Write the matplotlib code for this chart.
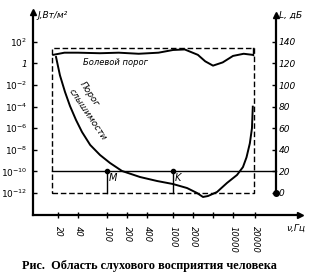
import numpy as np
import matplotlib
matplotlib.use("Agg")
import matplotlib.pyplot as plt
import matplotlib.transforms as mtransforms

# frequency ticks of the (hand-drawn, not quite logarithmic) axis, Hz
tick_freq = [20, 40, 100, 200, 400, 1000, 2000, 5000, 10000, 20000]
tick_text = ["20", "40", "100", "200", "400", "1000", "2000", "", "10000", "20000"]

# threshold of hearing, dB
hear_f = [18.7, 21.4, 25.5, 30.3, 37.3, 45.4, 58.8, 80.2, 111, 168, 314, 571,
          1000, 1625, 2402, 3162, 3977, 5743, 8123, 11350, 13680, 15300,
          17000, 18170, 18660]
hear_db = [126, 109, 93.6, 80.6, 67.7, 56.5, 44.5, 35.2, 27.8, 20.4, 14.8,
           11.1, 8.3, 4.6, 0, -3.7, -2.8, 0.9, 9.3, 16.7, 24, 33, 46, 60, 80]

# threshold of pain, dB
pain_f = [17, 25, 40, 80, 150, 300, 600, 1000, 1500, 2500, 3500, 5000, 7000,
          10000, 14000, 18500]
pain_db = [128, 130, 130, 129.5, 130, 129, 130, 132.5, 133, 128, 122, 118,
           121, 127, 129, 128]

# left axis: intensity, right axis: level
left_lab = [r"$10^{-12}$", r"$10^{-10}$", r"$10^{-8}$", r"$10^{-6}$",
            r"$10^{-4}$", r"$10^{-2}$", "1", r"$10^{2}$"]
level_ticks = [0, 20, 40, 60, 80, 100, 120, 140]

# points M and K on the 20 dB line
mk_f = [100, 1000]
mk_name = ["M", "K"]

box_f = [16.5, 19500]
box_db = [0, 134]

# pixel-ish positions of the ticks along the frequency axis
_lf = np.log10([1, 20, 40, 100, 200, 400, 1000, 2000, 5000, 10000, 20000, 1e6])
_px = np.array([-30, 58, 78, 107, 127, 147, 173, 193, 213, 233, 255, 400.0])


def fwd(f):
    f = np.clip(np.asarray(f, dtype=float), 1e-3, None)
    return np.interp(np.log10(f), _lf, _px)


def inv(p):
    return 10 ** np.interp(np.asarray(p, dtype=float), _px, _lf)


W, H = 313, 278
fig = plt.figure(figsize=(W / 100, H / 100), dpi=100)
x0, x1, ytop, ybot = 33, 300, 12, 215
ax = fig.add_axes([x0 / W, 1 - ybot / H, (x1 - x0) / W, (ybot - ytop) / H])
ax.set_xscale("function", functions=(fwd, inv))
ax.set_xlim(inv(x0), inv(x1))
ax.set_ylim(-20.4, 167.7)

for s in ["top", "right"]:
    ax.spines[s].set_visible(False)
for s in ["left", "bottom"]:
    ax.spines[s].set_linewidth(1.6)

tf = dict(family=["Liberation Sans Narrow", "DejaVu Sans"], style="italic")

ax.set_xticks(tick_freq)
ax.set_xticklabels(tick_text, rotation=-90, fontsize=6, **tf)
ax.xaxis.set_minor_locator(matplotlib.ticker.NullLocator())
ax.tick_params(axis="x", direction="inout", length=4, width=1, pad=6)

ax.set_yticks(level_ticks)
ax.set_yticklabels(left_lab, fontsize=6.5, **tf)
ax.tick_params(axis="y", direction="in", length=3, width=1, pad=4)

# arrow heads of the axes
ax.plot([0], [1], marker="^", color="k", ms=4, transform=ax.transAxes, clip_on=False)
ax.plot([1], [0], marker=">", color="k", ms=4, transform=ax.transAxes, clip_on=False)

# right axis (level, dB)
ax2 = ax.twinx()
ax2.set_ylim(ax.get_ylim())
for s in ["top", "left", "bottom"]:
    ax2.spines[s].set_visible(False)
xr = (276 - x0) / (x1 - x0)
ax2.spines["right"].set_position(("axes", xr))
ax2.spines["right"].set_bounds(0, 165)
ax2.spines["right"].set_linewidth(1.6)
ax2.set_yticks(level_ticks)
ax2.set_yticklabels([str(v) for v in level_ticks], fontsize=6.5, **tf)
ax2.tick_params(axis="y", direction="in", length=3, width=1, pad=2)
trans = mtransforms.blended_transform_factory(ax.transAxes, ax.transData)
ax.plot([xr], [165], marker="^", color="k", ms=4, transform=trans, clip_on=False)
ax.plot([xr], [0], marker="o", color="k", ms=4, transform=trans, clip_on=False)

# dashed box
bx = [box_f[0], box_f[1], box_f[1], box_f[0], box_f[0]]
by = [box_db[0], box_db[0], box_db[1], box_db[1], box_db[0]]
ax.plot(bx, by, color="k", lw=1, ls=(0, (4, 2)))

# 20 dB line up to the right axis
ax.plot([box_f[0], inv(276)], [20, 20], color="k", lw=1)

# curves
ax.plot(pain_f, pain_db, color="k", lw=1.4)
ax.plot([pain_f[-1], pain_f[-1]], [pain_db[-1], box_db[1]], color="k", lw=1)
ax.plot(hear_f, hear_db, color="k", lw=1.4)

# M and K
for f, name in zip(mk_f, mk_name):
    ax.plot([f, f], [0, 20], color="k", lw=1)
    ax.plot([f], [20], "o", color="k", ms=3)
    ax.text(f * 1.08, 14, name, fontsize=7, va="center", **tf)

ax.text(47, 119, "Болевой порог", fontsize=6, **tf)
ax.text(58, 92, "Порог", fontsize=6.5, rotation=-56, ha="center", va="center", **tf)
ax.text(54, 73, "слышимости", fontsize=6.5, rotation=-56, ha="center", va="center", **tf)

# axis names
fig.text(37 / W, 1 - 15 / H, "J,Вт/м²", fontsize=6.5, va="center", **tf)
fig.text(279 / W, 1 - 15 / H, "L, дБ", fontsize=6.5, va="center", **tf)
fig.text(286 / W, 1 - 228 / H, "ν,Гц", fontsize=6.5, va="center", **tf)

fig.text(149 / W, 1 - 266 / H, "Рис.  Область слухового восприятия человека",
         fontsize=8.8, fontweight="bold", family="Liberation Serif",
         ha="center", va="center")

fig.savefig("out.png", dpi=100)
